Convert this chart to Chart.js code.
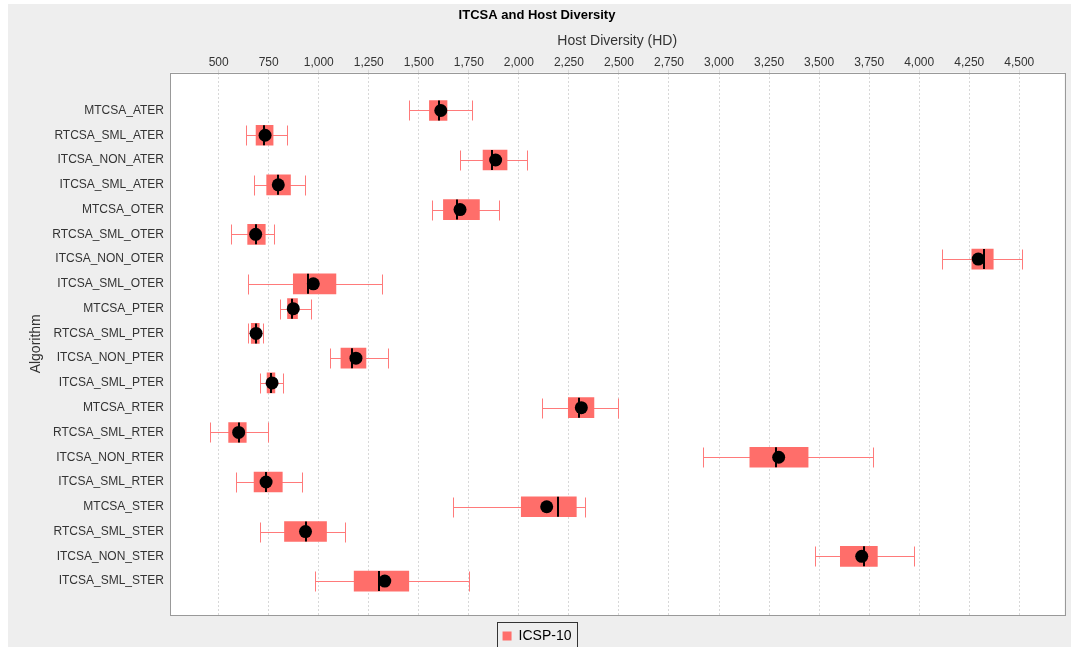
<!DOCTYPE html>
<html>
<head>
<meta charset="utf-8">
<script src="https://cdn.jsdelivr.net/npm/chart.js@4.4.1/dist/chart.umd.min.js"></script>
<style>
  html, body { margin: 0; padding: 0; background: #ffffff; }
  #chart { position: absolute; left: 8px; top: 4px; }
</style>
</head>
<body>
<canvas id="chart" width="1063" height="643"></canvas>
<script>
// Box plot values (Host Diversity per algorithm)
const categories = [
    'MTCSA_ATER', 'RTCSA_SML_ATER', 'ITCSA_NON_ATER', 'ITCSA_SML_ATER',
    'MTCSA_OTER', 'RTCSA_SML_OTER', 'ITCSA_NON_OTER', 'ITCSA_SML_OTER',
    'MTCSA_PTER', 'RTCSA_SML_PTER', 'ITCSA_NON_PTER', 'ITCSA_SML_PTER',
    'MTCSA_RTER', 'RTCSA_SML_RTER', 'ITCSA_NON_RTER', 'ITCSA_SML_RTER',
    'MTCSA_STER', 'RTCSA_SML_STER', 'ITCSA_NON_STER', 'ITCSA_SML_STER'
];
const whiskerLow  = [1453, 635, 1705, 678, 1567, 563, 4115, 647, 808, 647, 1054, 707, 2116, 457, 2918, 588, 1670, 707, 3478, 983];
const q1          = [1553, 687, 1821, 740, 1623, 645, 4263, 873, 844, 663, 1111, 742, 2247, 550, 3154, 677, 2012, 829, 3606, 1177];
const median      = [1603, 727, 1866, 798, 1693, 685, 4325, 946, 869, 685, 1167, 762, 2302, 600, 3287, 737, 2195, 934, 3723, 1299];
const q3          = [1641, 772, 1941, 859, 1803, 733, 4370, 1086, 894, 703, 1236, 781, 2375, 638, 3445, 818, 2287, 1039, 3791, 1450];
const whiskerHigh = [1765, 844, 2041, 929, 1902, 779, 4516, 1317, 959, 722, 1347, 823, 2493, 745, 3771, 918, 2332, 1132, 3972, 1753];
const mean        = [1610, 732, 1884, 798, 1706, 685, 4295, 973, 873, 687, 1186, 767, 2312, 600, 3298, 737, 2139, 934, 3713, 1330];
const xTickValues = [500, 750, 1000, 1250, 1500, 1750, 2000, 2250, 2500, 2750, 3000, 3250, 3500, 3750, 4000, 4250, 4500];
const seriesName = 'ICSP-10';

const FONT = 'Liberation Sans, Arial, sans-serif';
const BOX_COLOR = '#FF6E6A';
const WHISKER_COLOR = '#FF7A7A';
const BOX_HEIGHT = 20;

// Background, plot border, whiskers, medians and legend frame
const boxPlotMarks = {
    id: 'boxPlotMarks',
    beforeDraw(chart) {
        const {ctx, chartArea} = chart;
        ctx.save();
        ctx.fillStyle = '#EEEEEE';
        ctx.fillRect(0, 0, chart.width, chart.height);
        ctx.fillStyle = '#FFFFFF';
        ctx.fillRect(chartArea.left, chartArea.top, chartArea.right - chartArea.left, chartArea.bottom - chartArea.top);
        ctx.restore();
    },
    beforeDatasetsDraw(chart) {
        const {ctx, scales: {x, y}} = chart;
        ctx.save();
        ctx.strokeStyle = WHISKER_COLOR;
        ctx.lineWidth = 1;
        categories.forEach((c, i) => {
            const yy = Math.round(y.getPixelForValue(i)) + 0.5;
            const x1 = Math.round(x.getPixelForValue(whiskerLow[i])) + 0.5;
            const x2 = Math.round(x.getPixelForValue(whiskerHigh[i])) + 0.5;
            ctx.beginPath();
            ctx.moveTo(x1, yy);
            ctx.lineTo(x2, yy);
            ctx.moveTo(x1, yy - BOX_HEIGHT / 2);
            ctx.lineTo(x1, yy + BOX_HEIGHT / 2);
            ctx.moveTo(x2, yy - BOX_HEIGHT / 2);
            ctx.lineTo(x2, yy + BOX_HEIGHT / 2);
            ctx.stroke();
        });
        ctx.restore();
    },
    afterDatasetDraw(chart, args) {
        if (args.meta.type !== 'bar') return;
        const {ctx, scales: {x, y}} = chart;
        ctx.save();
        ctx.strokeStyle = '#000000';
        ctx.lineWidth = 2;
        categories.forEach((c, i) => {
            const yy = y.getPixelForValue(i);
            const xm = Math.round(x.getPixelForValue(median[i]));
            ctx.beginPath();
            ctx.moveTo(xm, yy - BOX_HEIGHT / 2);
            ctx.lineTo(xm, yy + BOX_HEIGHT / 2);
            ctx.stroke();
        });
        ctx.restore();
    },
    afterDraw(chart) {
        const {ctx, chartArea} = chart;
        ctx.save();
        ctx.strokeStyle = '#999999';
        ctx.lineWidth = 1;
        ctx.strokeRect(Math.round(chartArea.left) + 0.5, Math.round(chartArea.top) + 0.5,
            Math.round(chartArea.right - chartArea.left), Math.round(chartArea.bottom - chartArea.top));
        // frame around the legend item
        const hit = chart.legend.legendHitBoxes[0];
        if (hit) {
            ctx.strokeStyle = '#333333';
            ctx.strokeRect(Math.round(hit.left - 6) + 0.5, Math.round(hit.top - 7) + 0.5,
                Math.round(hit.width + 11), 40);
        }
        ctx.restore();
    }
};

new Chart(document.getElementById('chart'), {
    type: 'bar',
    data: {
        datasets: [{
            type: 'bar',
            label: seriesName,
            data: categories.map((c, i) => ({x: [q1[i], q3[i]], y: i})),
            backgroundColor: BOX_COLOR,
            borderWidth: 0,
            barThickness: BOX_HEIGHT,
            order: 1
        }, {
            type: 'scatter',
            label: 'mean',
            data: categories.map((c, i) => ({x: mean[i], y: i})),
            backgroundColor: '#000000',
            borderWidth: 0,
            pointRadius: 6.5,
            order: 0
        }]
    },
    options: {
        indexAxis: 'y',
        responsive: false,
        devicePixelRatio: 1,
        animation: false,
        layout: {padding: {top: 0, right: 5, bottom: 0, left: 0}},
        plugins: {
            title: {
                display: true,
                text: 'ITCSA and Host Diversity',
                color: '#000000',
                font: {family: FONT, size: 13, weight: 'bold'},
                padding: {top: 4, bottom: 0}
            },
            legend: {
                position: 'bottom',
                maxHeight: 32,
                labels: {
                    boxWidth: 9,
                    boxHeight: 9,
                    padding: 14,
                    color: '#000000',
                    font: {family: FONT, size: 14},
                    filter: item => item.datasetIndex === 0
                }
            },
            tooltip: {enabled: false}
        },
        scales: {
            x: {
                type: 'linear',
                position: 'top',
                min: 257,
                max: 4726,
                afterBuildTicks: scale => { scale.ticks = xTickValues.map(v => ({value: v})); },
                afterFit: scale => { scale.height = 49; },
                ticks: {
                    autoSkip: false,
                    maxRotation: 0,
                    padding: 0,
                    color: '#333333',
                    font: {family: FONT, size: 12},
                    callback: v => v.toLocaleString('en-US')
                },
                grid: {color: '#D8D8D8', tickLength: 3},
                border: {display: false, dash: [2, 2]},
                title: {
                    display: true,
                    text: 'Host Diversity (HD)',
                    color: '#333333',
                    font: {family: FONT, size: 14},
                    padding: {top: 9, bottom: 0}
                }
            },
            y: {
                type: 'linear',
                reverse: true,
                offset: false,
                min: -1.53,
                max: 20.37,
                afterBuildTicks: scale => { scale.ticks = categories.map((c, i) => ({value: i})); },
                afterFit: scale => { scale.width = 162; },
                ticks: {
                    autoSkip: false,
                    padding: 6,
                    color: '#333333',
                    font: {family: FONT, size: 12},
                    callback: v => categories[v]
                },
                grid: {display: false, drawTicks: false, offset: false},
                border: {display: false},
                title: {
                    display: true,
                    text: 'Algorithm',
                    color: '#333333',
                    font: {family: FONT, size: 14},
                    padding: {top: 20, bottom: 0}
                }
            }
        }
    },
    plugins: [boxPlotMarks]
});
</script>
</body>
</html>
